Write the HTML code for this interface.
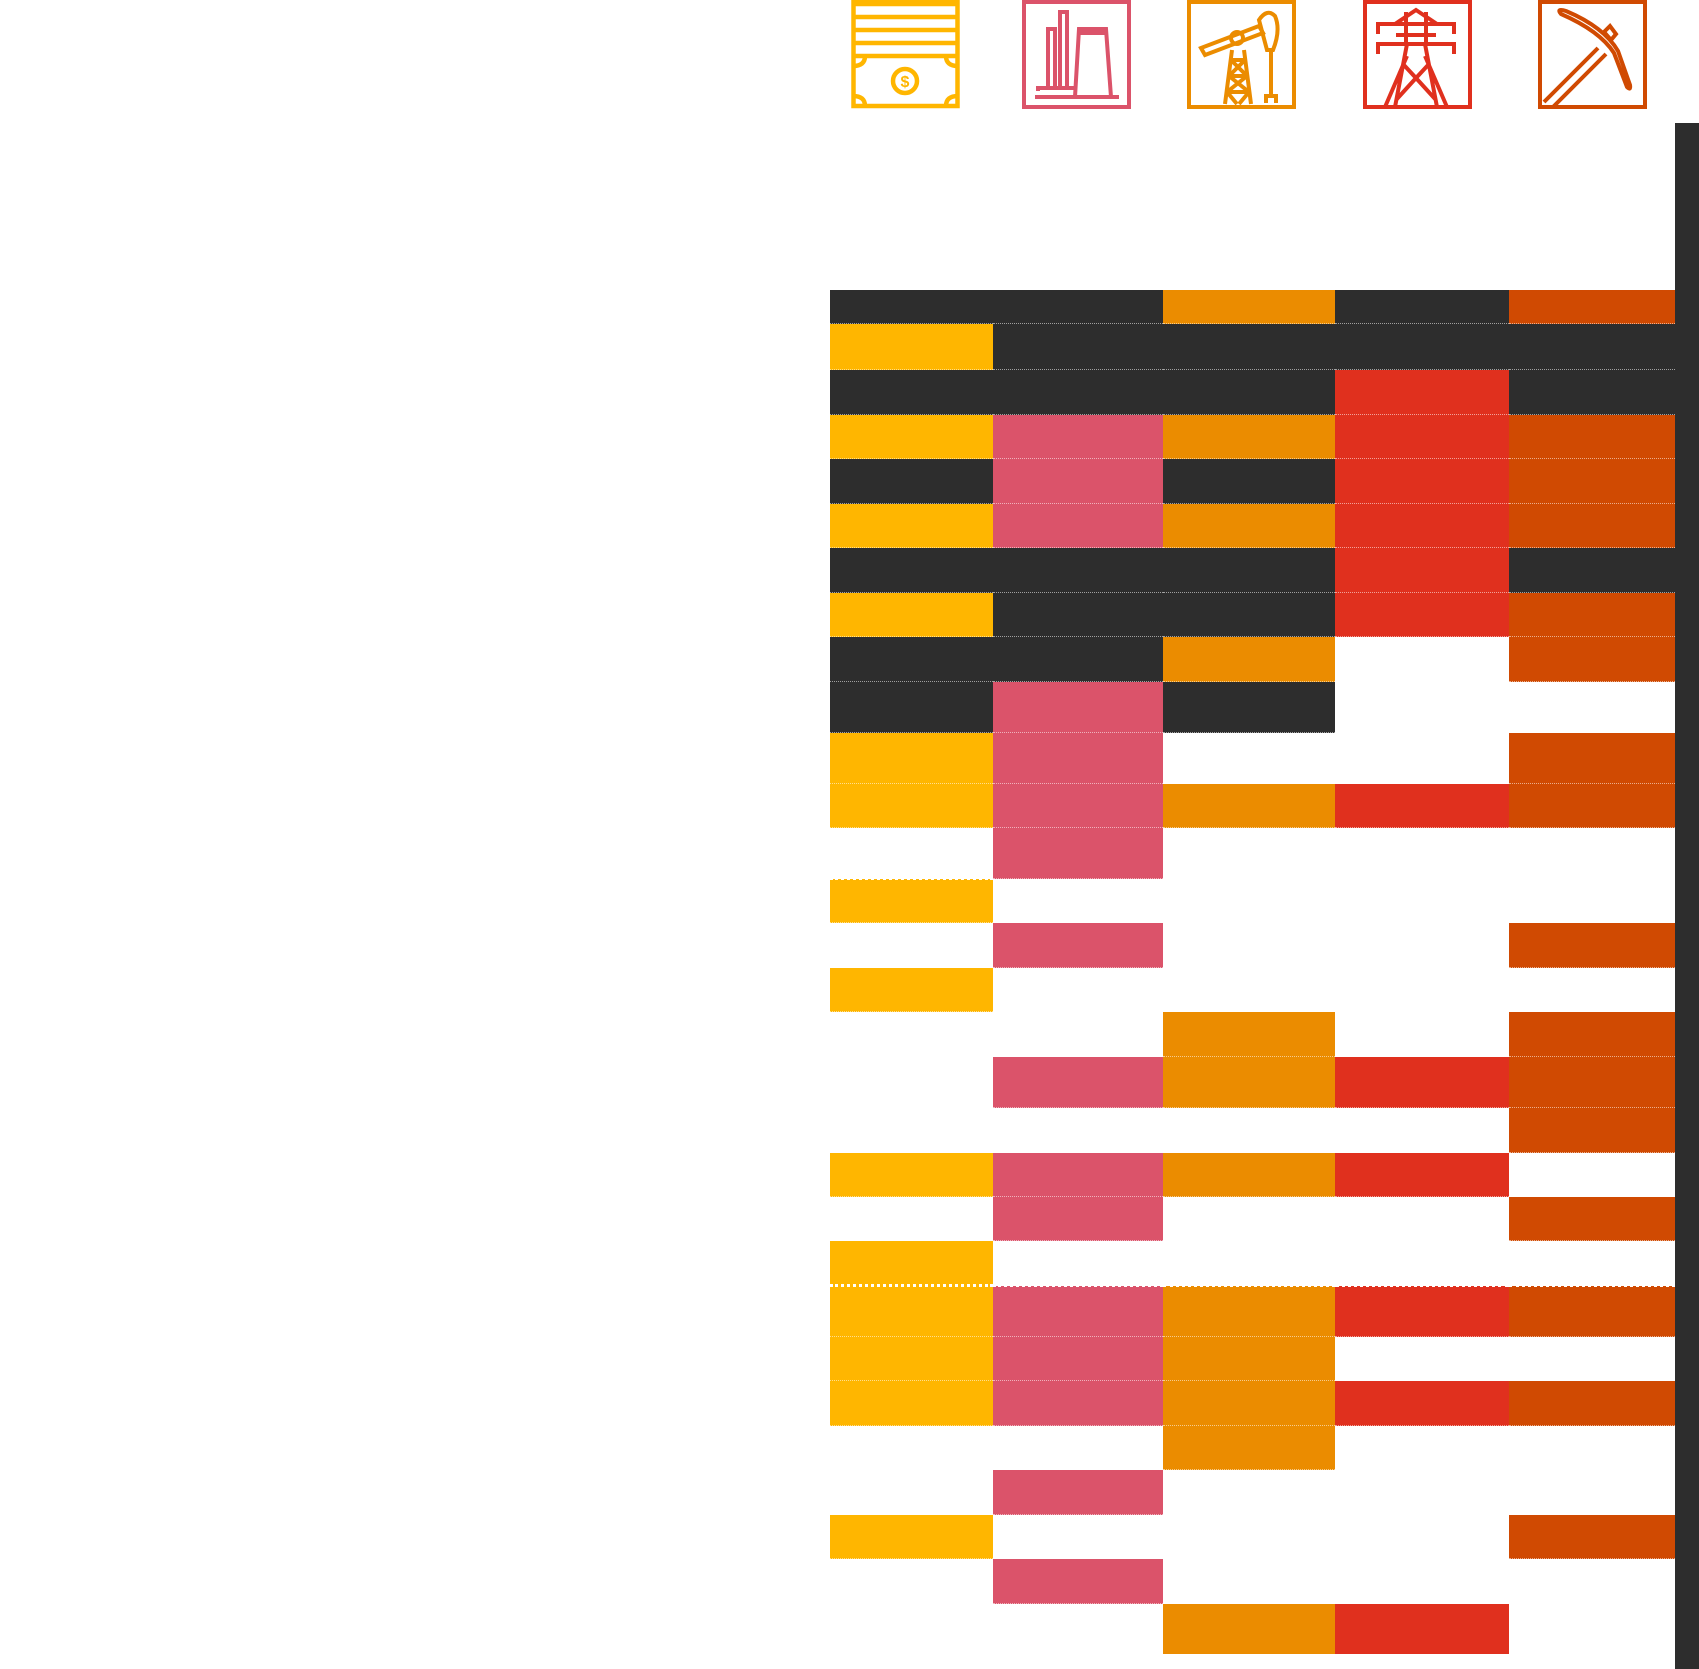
<!DOCTYPE html>
<html><head><meta charset="utf-8"><style>
html,body{margin:0;padding:0;background:#fff;width:1699px;height:1669px;overflow:hidden;position:relative;font-family:"Liberation Sans",sans-serif}
table{position:absolute;left:830px;top:289px;border-collapse:collapse;table-layout:fixed;width:845px}
td{padding:0;margin:0;border:0;border-top:1px dotted rgba(255,255,255,0.55)}
.Y{background:#FFB600}.P{background:#DB536A}.O{background:#EB8C00}.R{background:#E0301E}.B{background:#D04A02}.D{background:#2D2D2D}.W{background:#fff}
.bar{position:absolute;left:1675px;top:123px;width:24px;height:1546px;background:#2D2D2D}
svg{position:absolute;top:0}
</style></head><body>
<div class="bar"></div>

<svg style="left:851px" width="109" height="109" viewBox="0 0 109 109" fill="none" stroke="#FFB600" stroke-width="4.5">
<rect x="2.5" y="0" width="104" height="106"/>
<line x1="2" y1="4" x2="107" y2="4"/><line x1="2" y1="17" x2="107" y2="17"/><line x1="2" y1="30" x2="107" y2="30"/><line x1="2" y1="43" x2="107" y2="43"/><line x1="2" y1="56" x2="107" y2="56"/>
<circle cx="54" cy="81" r="12"/>
<path d="M2 66 q12 0 12 -10 M107 66 q-12 0 -12 -10 M2 96 q12 0 12 10 M107 96 q-12 0 -12 10"/>
<text x="54" y="87" font-size="16" fill="#FFB600" stroke="none" text-anchor="middle" font-weight="bold">$</text>
</svg>

<svg style="left:1022px" width="109" height="109" viewBox="0 0 109 109" fill="none" stroke="#DB536A" stroke-width="4">
<rect x="2" y="2" width="105" height="105"/>
<path d="M13 97 H97"/>
<path d="M16 91 V88 H52"/>
<path d="M26 88 V29 H33 V88 M38 88 V12 H45 V88"/>
<path d="M53 97 L57 29 H84 L89 97 M57 33 H84"/>
</svg>

<svg style="left:1187px" width="109" height="109" viewBox="0 0 109 109" fill="none" stroke="#EB8C00" stroke-width="4">
<rect x="2" y="2" width="105" height="105"/>
<path d="M14 48 L72 26 L76 33 L18 55 Z"/>
<circle cx="50" cy="38" r="6"/>
<path d="M72 20 q8 -12 16 -4 q6 14 -2 34 L80 50 Z"/>
<path d="M84 50 V98 M79 103 V96 H89 V103"/>
<path d="M45 50 L38 104 M57 50 L64 104 M44 60 H58 M42 76 H60 M40 92 H62 M44 60 L60 76 M58 60 L42 76 M42 76 L62 92 M60 76 L40 92 M40 92 L50 104 M62 92 L52 104"/>
</svg>

<svg style="left:1363px" width="109" height="109" viewBox="0 0 109 109" fill="none" stroke="#E0301E" stroke-width="4">
<rect x="2" y="2" width="105" height="105"/>
<path d="M14 24 H92 M14 44 H92 M15 22 V34 M91 22 V34 M15 42 V54 M91 42 V54"/>
<path d="M32 24 L53 10 L74 24 M33 35 H73 M43 12 V44 M63 12 V44"/>
<path d="M44 44 L32 107 M62 44 L74 107 M44 56 L22 107 M62 56 L84 107 M40 64 L53 78 L66 64 M53 78 L33 100 M53 78 L73 100"/>
</svg>

<svg style="left:1538px" width="109" height="109" viewBox="0 0 109 109" fill="none" stroke="#D04A02" stroke-width="4">
<rect x="2" y="2" width="105" height="105"/>
<path d="M23 14 q-5 -6 5 -3 q38 16 52 40 l12 34 q1 6 -3 2 l-13 -34 q-14 -22 -53 -39 Z"/>
<path d="M66 32 L72 26 L78 34 L73 40 Z"/>
<path d="M60 48 L6 102 M68 54 L14 108"/>
</svg>

<table>
<colgroup><col style="width:163px"><col style="width:170px"><col style="width:172px"><col style="width:174px"><col style="width:166px"></colgroup>
<tr style="height:34px"><td class="D"></td><td class="D"></td><td class="O"></td><td class="D"></td><td class="B"></td></tr>
<tr style="height:46px"><td class="Y"></td><td class="D"></td><td class="D"></td><td class="D"></td><td class="D"></td></tr>
<tr style="height:45px"><td class="D"></td><td class="D"></td><td class="D"></td><td class="R"></td><td class="D"></td></tr>
<tr style="height:44px"><td class="Y"></td><td class="P"></td><td class="O"></td><td class="R"></td><td class="B"></td></tr>
<tr style="height:45px"><td class="D"></td><td class="P"></td><td class="D"></td><td class="R"></td><td class="B"></td></tr>
<tr style="height:44px"><td class="Y"></td><td class="P"></td><td class="O"></td><td class="R"></td><td class="B"></td></tr>
<tr style="height:45px"><td class="D"></td><td class="D"></td><td class="D"></td><td class="R"></td><td class="D"></td></tr>
<tr style="height:44px"><td class="Y"></td><td class="D"></td><td class="D"></td><td class="R"></td><td class="B"></td></tr>
<tr style="height:45px"><td class="D"></td><td class="D"></td><td class="O"></td><td class="W"></td><td class="B"></td></tr>
<tr style="height:51px"><td class="D"></td><td class="P"></td><td class="D"></td><td class="W"></td><td class="W"></td></tr>
<tr style="height:51px"><td class="Y"></td><td class="P"></td><td class="W"></td><td class="W"></td><td class="B"></td></tr>
<tr style="height:44px"><td class="Y"></td><td class="P"></td><td class="O"></td><td class="R"></td><td class="B"></td></tr>
<tr style="height:51px"><td class="W"></td><td class="P"></td><td class="W"></td><td class="W"></td><td class="W"></td></tr>
<tr style="height:44px"><td class="Y" style="border-top:3px dotted #fff"></td><td class="W"></td><td class="W"></td><td class="W"></td><td class="W"></td></tr>
<tr style="height:45px"><td class="W"></td><td class="P"></td><td class="W"></td><td class="W"></td><td class="B"></td></tr>
<tr style="height:44px"><td class="Y"></td><td class="W"></td><td class="W"></td><td class="W"></td><td class="W"></td></tr>
<tr style="height:45px"><td class="W"></td><td class="W"></td><td class="O"></td><td class="W"></td><td class="B"></td></tr>
<tr style="height:51px"><td class="W"></td><td class="P"></td><td class="O"></td><td class="R"></td><td class="B"></td></tr>
<tr style="height:45px"><td class="W"></td><td class="W"></td><td class="W"></td><td class="W"></td><td class="B"></td></tr>
<tr style="height:44px"><td class="Y"></td><td class="P"></td><td class="O"></td><td class="R"></td><td class="W"></td></tr>
<tr style="height:44px"><td class="W"></td><td class="P"></td><td class="W"></td><td class="W"></td><td class="B"></td></tr>
<tr style="height:45px"><td class="Y"></td><td class="W"></td><td class="W"></td><td class="W"></td><td class="W"></td></tr>
<tr style="height:51px"><td class="Y" style="border-top:3px dotted #fff"></td><td class="P" style="border-top:3px dotted #fff"></td><td class="O" style="border-top:3px dotted #fff"></td><td class="R" style="border-top:3px dotted #fff"></td><td class="B" style="border-top:3px dotted #fff"></td></tr>
<tr style="height:44px"><td class="Y"></td><td class="P"></td><td class="O"></td><td class="W"></td><td class="W"></td></tr>
<tr style="height:45px"><td class="Y"></td><td class="P"></td><td class="O"></td><td class="R"></td><td class="B"></td></tr>
<tr style="height:44px"><td class="W"></td><td class="W"></td><td class="O"></td><td class="W"></td><td class="W"></td></tr>
<tr style="height:45px"><td class="W"></td><td class="P"></td><td class="W"></td><td class="W"></td><td class="W"></td></tr>
<tr style="height:44px"><td class="Y"></td><td class="W"></td><td class="W"></td><td class="W"></td><td class="B"></td></tr>
<tr style="height:45px"><td class="W"></td><td class="P"></td><td class="W"></td><td class="W"></td><td class="W"></td></tr>
<tr style="height:50px"><td class="W"></td><td class="W"></td><td class="O"></td><td class="R"></td><td class="W"></td></tr>
</table>
</body></html>
